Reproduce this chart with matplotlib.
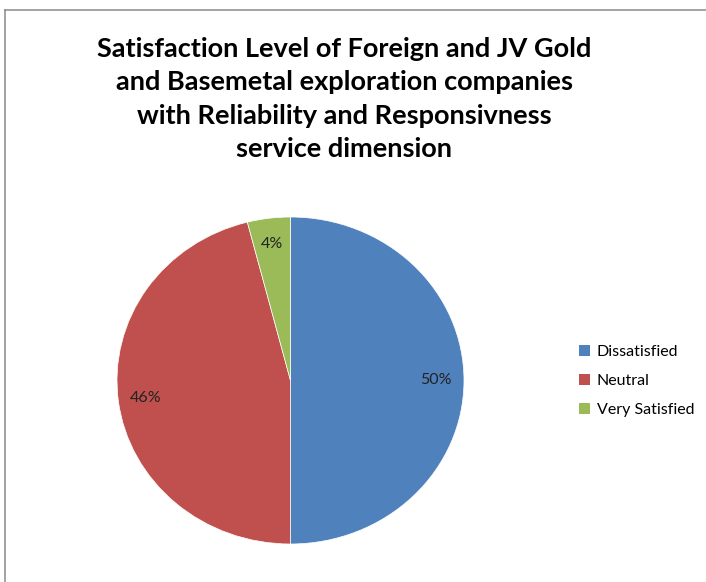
import matplotlib.pyplot as plt
from matplotlib.lines import Line2D
from matplotlib.patches import Patch

# Satisfaction levels, reliability and responsiveness dimension
categories = ['Dissatisfied', 'Neutral', 'Very Satisfied']
shares = [50, 46, 4]
colors = ['#4F81BD', '#C0504D', '#9BBB59']

title = ('Satisfaction Level of Foreign and JV Gold\n'
         'and Basemetal exploration companies\n'
         'with Reliability and Responsivness\n'
         'service dimension')

W, H = 706, 582
fig = plt.figure(figsize=(W / 100, H / 100), dpi=100)
fig.patch.set_facecolor('white')

# chart border (left and top edges visible)
fig.add_artist(Line2D([5 / W, 5 / W], [0, 1 - 10 / H], color='#8a8a8a', lw=1.1))
fig.add_artist(Line2D([5 / W, 1], [1 - 10 / H, 1 - 10 / H], color='#8a8a8a', lw=1.1))

fig.text(344 / W, 1 - 99 / H, title, ha='center', va='center',
         fontsize=19.5, fontweight='bold', family=['Lato', 'DejaVu Sans'],
         linespacing=1.47, color='black')

# slightly oval plot area, like the original spreadsheet chart
ax = fig.add_axes([117 / W, 38 / H, 347 / W, 327 / H])
wedges, texts, autotexts = ax.pie(
    shares, colors=colors, startangle=90, counterclock=False,
    autopct=lambda p: f'{p:.0f}%', pctdistance=0.84,
    wedgeprops=dict(linewidth=0.5, edgecolor='white'),
    textprops=dict(fontsize=11.5, family=['Lato', 'DejaVu Sans'], color='#222222'))
ax.set_aspect('auto')
ax.set_xlim(-1, 1)
ax.set_ylim(-1, 1)
ax.axis('off')

handles = [Patch(facecolor=c, edgecolor='none') for c in colors]
fig.legend(handles, categories, loc='center left',
           bbox_to_anchor=(565 / W, 1 - 381 / H), frameon=False,
           handlelength=0.65, handleheight=0.65, handletextpad=0.45,
           labelspacing=0.95,
           prop=dict(size=11.5, family=['Lato', 'DejaVu Sans']))

fig.savefig('out.png', dpi=100)
